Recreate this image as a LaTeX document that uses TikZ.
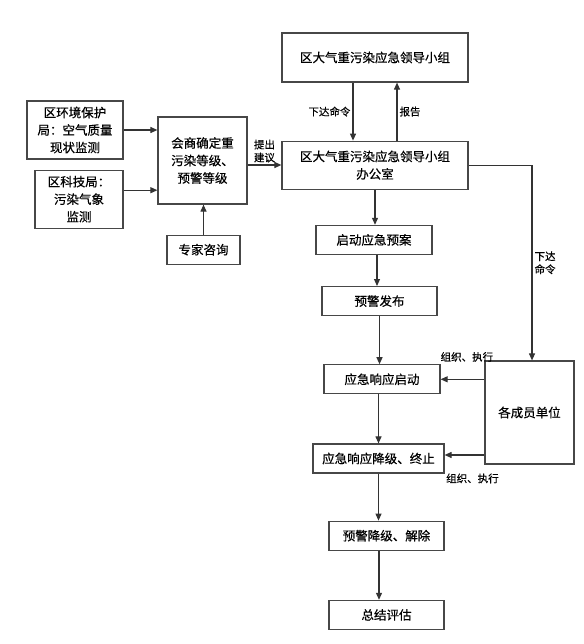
\documentclass[tikz,border=0pt]{standalone}
\usepackage{fontspec}
\newfontfamily\cjk[FakeBold=0.45]{Noto Sans CJK SC}
\usetikzlibrary{positioning,arrows.meta}

\begin{document}
\begin{tikzpicture}[x=1pt, y=-1pt,
  every node/.style={font=\cjk\fontsize{12.5}{17.5}\selectfont},
  box/.style={rectangle, draw=black!72, line width=1.2pt, align=center,
              inner sep=2pt, minimum height=29pt},
  lbl/.style={font=\cjk\fontsize{10.5}{13}\selectfont, inner sep=2pt, align=center},
  arr/.style={-{Triangle[length=7pt,width=6pt]}, line width=1.1pt, draw=black!80}
]
\useasboundingbox (0,0) rectangle (583,644);

% leading group and its office
\node[box, minimum width=186pt, minimum height=49pt] (lead) at (375,57.5) {区大气重污染应急领导小组};
\node[box, minimum width=186pt, minimum height=48pt, below=58pt of lead] (office) {区大气重污染应急领导小组\\办公室};

% left side
\node[box, minimum width=96pt, minimum height=58pt] (env) at (75,130) {区环境保护\\局：空气质量\\现状监测};
\node[box, minimum width=88pt, minimum height=58pt, below=10pt of env, xshift=4pt] (tech) {区科技局：\\污染气象\\监测};
\node[box, minimum width=89pt, minimum height=87pt] (consult) at (202.5,160.5) {会商确定重\\污染等级、\\预警等级};
\node[box, minimum width=73pt, below=30pt of consult, xshift=1pt] (expert) {专家咨询};

% main column
\node[box, minimum width=116pt, below=35pt of office, xshift=-1pt] (start) {启动应急预案};
\node[box, minimum width=115pt, below=31pt of start, xshift=5.5pt] (warn) {预警发布};
\node[box, minimum width=116pt, below=48pt of warn, xshift=2.5pt] (resp) {应急响应启动};
\node[box, minimum width=131pt, below=49pt of resp, xshift=-3.5pt] (down) {应急响应降级、终止};
\node[box, minimum width=115pt, below=47pt of down, xshift=8pt] (lift) {预警降级、解除};
\node[box, minimum width=115pt, below=49pt of lift] (sum) {总结评估};

% member units
\node[box, minimum width=89pt, minimum height=103pt] (units) at (529.5,412.5) {各成员单位};

\draw[arr] ([xshift=-22pt]lead.south) -- node[lbl, left] {下达命令} ([xshift=-22pt]office.north);
\draw[arr] ([xshift=22pt]office.north) -- node[lbl, right] {报告} ([xshift=22pt]lead.south);

\draw[arr] (env.east) -- (env.east -| consult.west);
\draw[arr] ([yshift=9pt]tech.east) -- ([yshift=9pt]tech.east -| consult.west);
\draw[arr] (expert.north) -- (expert.north |- consult.south);
\draw[arr] ([yshift=-4.5pt]consult.east) -- node[lbl, above] {提出\\建议} ([yshift=-4.5pt]consult.east -| office.west);

\draw[arr] (office.east) -| node[lbl, right, pos=0.75] {下达\\命令} ([xshift=2.5pt]units.north);

\draw[arr] (office.south) -- (office.south |- start.north);
\draw[arr] ([xshift=3pt]start.south) -- ([xshift=-2.5pt]warn.north);
\draw[arr] (warn.south) -- (warn.south |- resp.north);
\draw[arr] (down.north |- resp.south) -- (down.north);
\draw[arr] (down.south) -- (down.south |- lift.north);
\draw[arr] ([xshift=-7.5pt]lift.south) -- ([xshift=-7.5pt]sum.north);

\draw[arr] (units.west |- resp) -- node[lbl, above=15pt, pos=0.4] {组织、执行} (resp.east);
\draw[arr] ([yshift=3.5pt]units.west |- down) -- node[lbl, below=16pt, pos=0.3] {组织、执行} ([yshift=3.5pt]down.east);

\end{tikzpicture}
\end{document}
